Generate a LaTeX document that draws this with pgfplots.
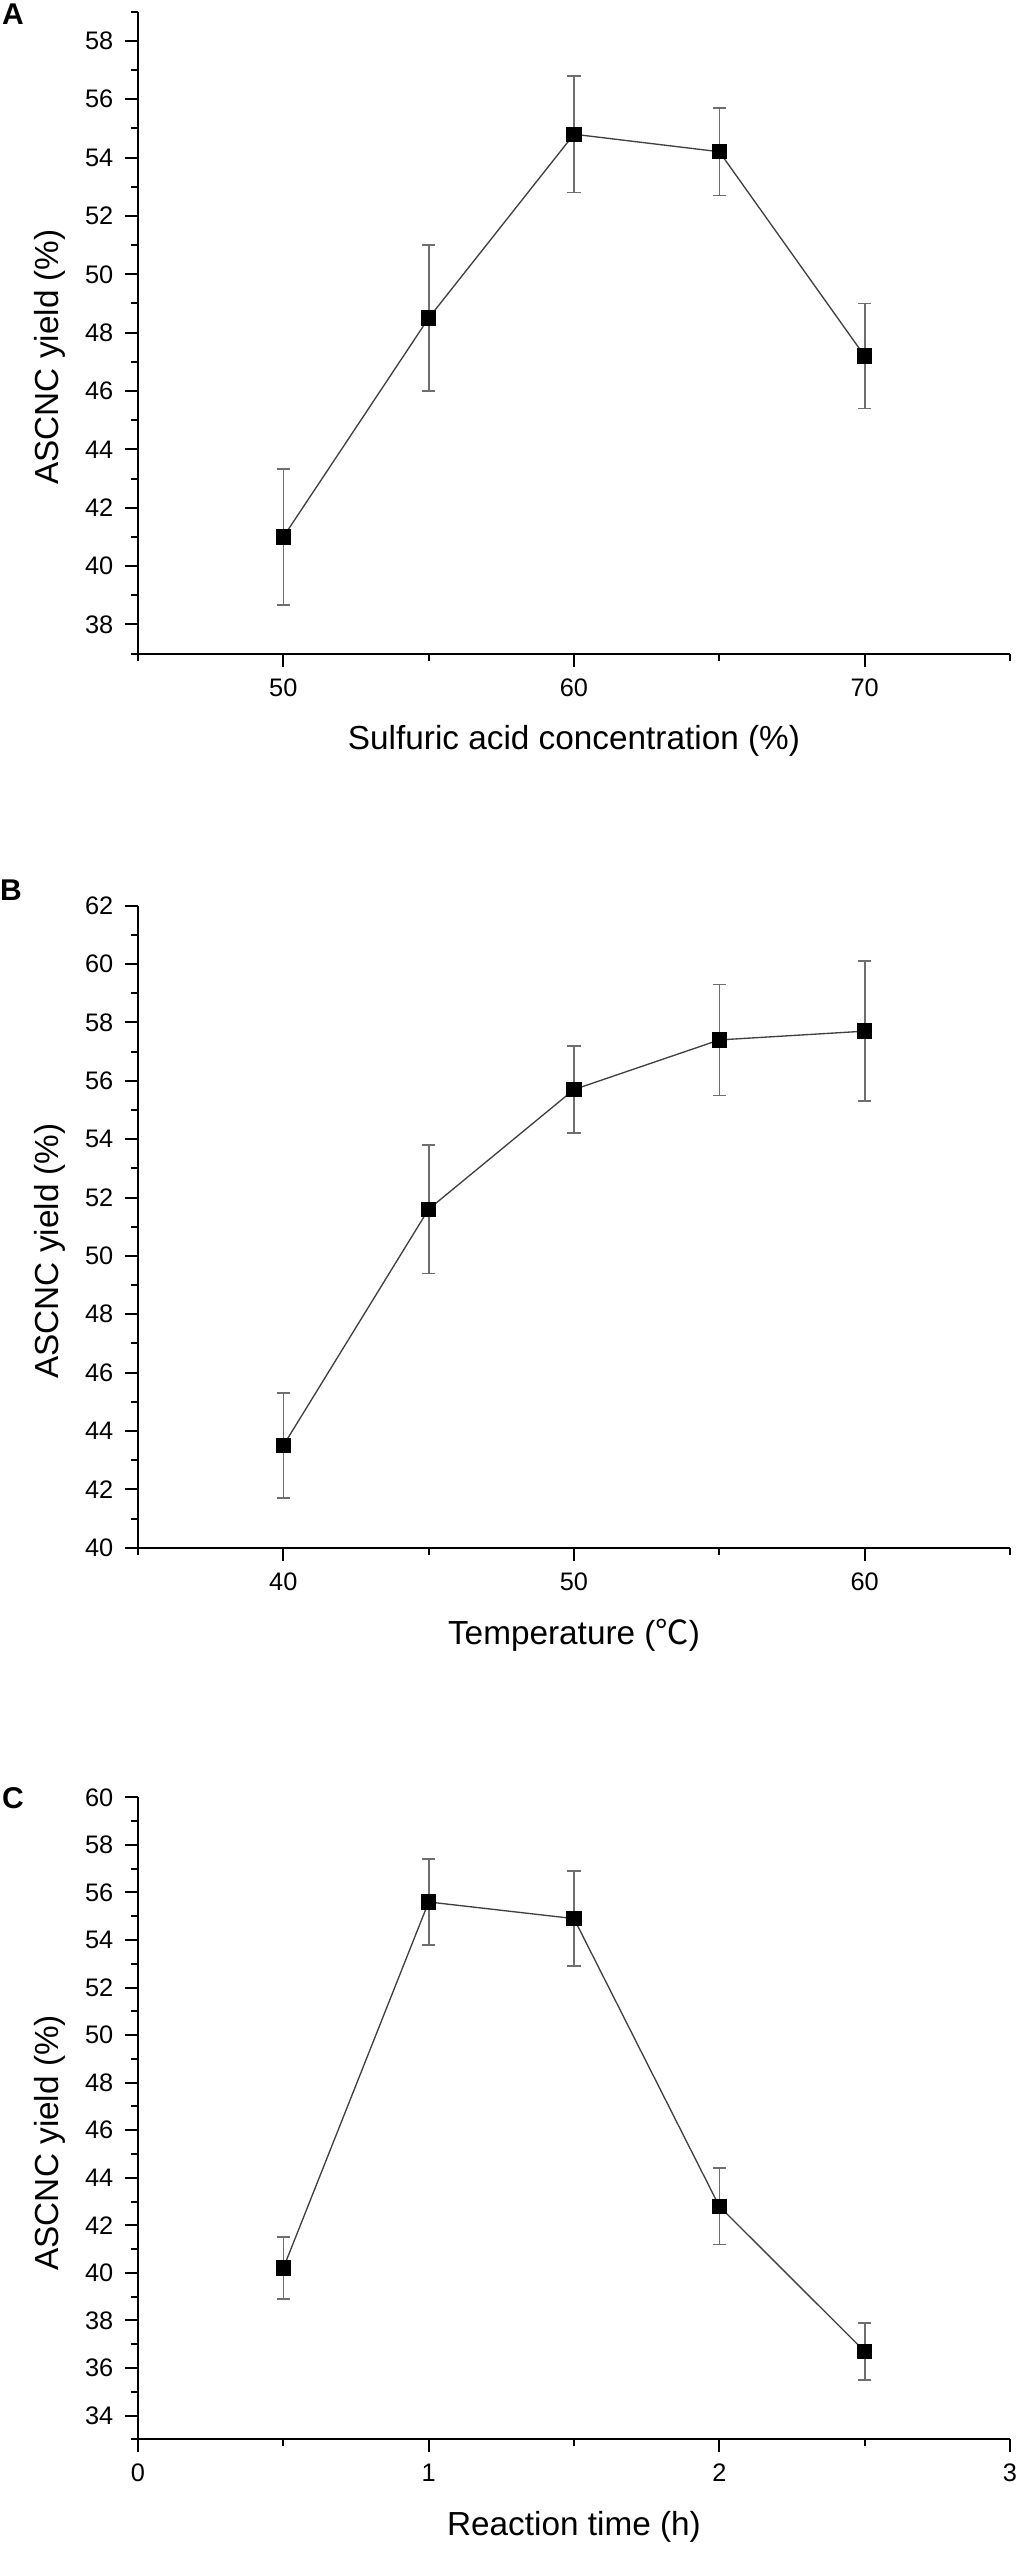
\documentclass[border=0pt]{standalone}
\usepackage{pgfplots}
\pgfplotsset{compat=1.18}
\usepackage{fontspec}
\setmainfont{Liberation Sans}
\newfontfamily\cjk{Noto Sans CJK SC}
\definecolor{lincol}{HTML}{404040}
\definecolor{errcol}{HTML}{6E6E6E}
\pgfplotsset{
  myax/.style={
    width=261.6pt, height=192.6pt, scale only axis,
    axis lines*=left,
    axis line style={line width=0.6pt, black},
    tick style={line width=0.6pt, black},
    tick align=outside,
    major tick length=3.9pt, minor tick length=2.1pt,
    ticklabel style={font=\fontsize{7.6}{9}\selectfont},
    label style={font=\fontsize{10.3}{12}\selectfont},
    ylabel={ASCNC yield (\%)},
    every axis y label/.style={at={(axis description cs:-0.1007,0.462)}, rotate=90, anchor=center},
    every axis x label/.style={at={(axis description cs:0.5,-0.136)}, anchor=center},
    /pgf/number format/assume math mode=true,
    clip=false, anchor=south west,
  },
  myplot/.style={
    color=lincol, line width=0.4pt,
    mark=square*, mark size=2.1pt,
    mark options={fill=black, draw=black, solid},
    error bars/.cd, y dir=both, y explicit,
    error bar style={color=errcol, line width=0.5pt},
    error mark options={rotate=90, mark size=2pt, color=errcol, line width=0.5pt},
  },
}
\begin{document}
\begin{tikzpicture}
\path[use as bounding box] (0,0) rectangle (306.6pt,-765pt);
% Panel A
\begin{axis}[myax, at={(41.4pt,-196.1pt)},
  xmin=45, xmax=75, ymin=37, ymax=59,
  xtick={50,60,70}, minor xtick={45,55,65,75},
  ytick={38,40,...,58}, minor ytick={37,39,...,59},
  xlabel={Sulfuric acid concentration (\%)}]
\addplot+[myplot] coordinates {
  (50,41.0) +- (0,2.33)
  (55,48.5) +- (0,2.5)
  (60,54.8) +- (0,2.0)
  (65,54.2) +- (0,1.5)
  (70,47.2) +- (0,1.8)
};
\end{axis}
% Panel B
\begin{axis}[myax, at={(41.4pt,-464.3pt)},
  xmin=35, xmax=65, ymin=40, ymax=62,
  xtick={40,50,60}, minor xtick={35,45,55,65},
  ytick={40,42,...,62}, minor ytick={41,43,...,61},
  xlabel={Temperature ({\cjk ℃})}]
\addplot+[myplot] coordinates {
  (40,43.5) +- (0,1.8)
  (45,51.6) +- (0,2.2)
  (50,55.7) +- (0,1.5)
  (55,57.4) +- (0,1.9)
  (60,57.7) +- (0,2.4)
};
\end{axis}
% Panel C
\begin{axis}[myax, at={(41.4pt,-731.8pt)},
  xmin=0, xmax=3, ymin=33, ymax=60,
  xtick={0,1,2,3}, minor xtick={0.5,1.5,2.5},
  ytick={34,36,...,60}, minor ytick={33,35,...,59},
  xlabel={Reaction time (h)}]
\addplot+[myplot] coordinates {
  (0.5,40.2) +- (0,1.3)
  (1.0,55.6) +- (0,1.8)
  (1.5,54.9) +- (0,2.0)
  (2.0,42.8) +- (0,1.6)
  (2.5,36.7) +- (0,1.2)
};
\end{axis}
\node[font=\fontsize{9}{10}\selectfont\bfseries] at (3.9pt,-4.2pt) {A};
\node[font=\fontsize{9}{10}\selectfont\bfseries] at (3.3pt,-267pt) {B};
\node[font=\fontsize{9}{10}\selectfont\bfseries] at (3.9pt,-539.3pt) {C};
\end{tikzpicture}
\end{document}
